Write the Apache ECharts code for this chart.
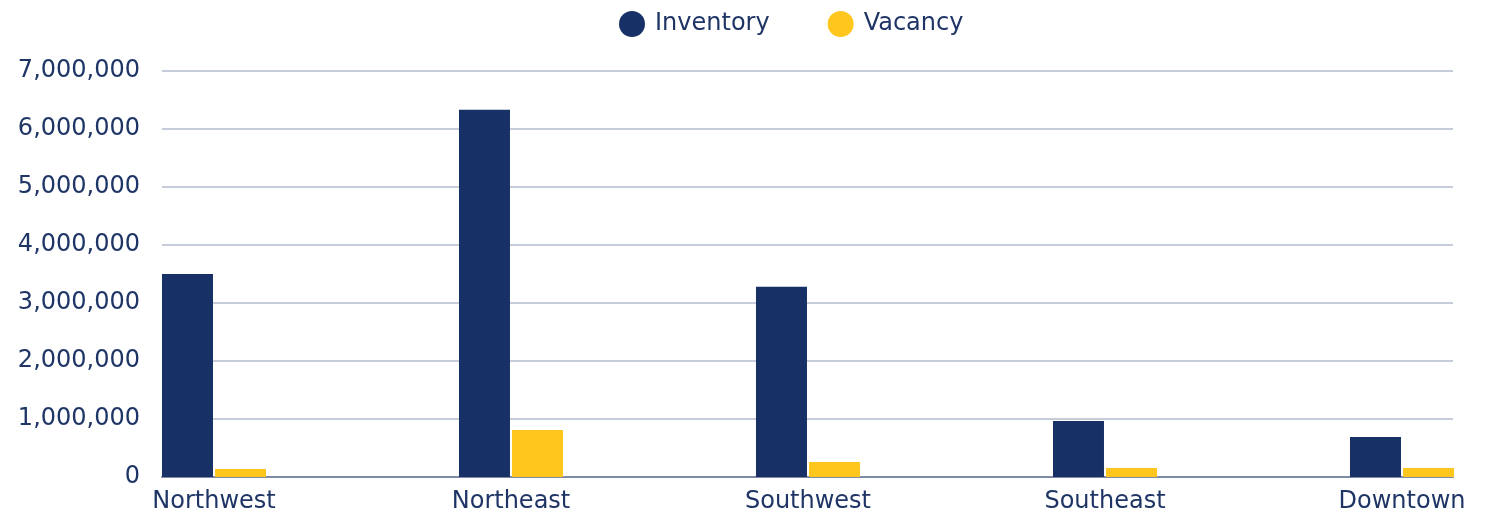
<!DOCTYPE html>
<html>
<head>
<meta charset="utf-8">
<script src="https://cdn.jsdelivr.net/npm/echarts@6/dist/echarts.min.js"></script>
<style>
  html, body { margin: 0; padding: 0; background: #fff; }
  #chart { width: 1493px; height: 518px; }
</style>
</head>
<body>
<div id="chart"></div>
<script>
// 数据
const categories = ['Northwest', 'Northeast', 'Southwest', 'Southeast', 'Downtown']
const inventory = [3500000, 6330000, 3280000, 965000, 690000]
const vacancy = [140000, 810000, 260000, 155000, 155000]
const yTicks = [0, 1000000, 2000000, 3000000, 4000000, 5000000, 6000000, 7000000]

const textColor = '#1f3566'
const font = '"DejaVu Sans", sans-serif'

let myChart = echarts.init(document.getElementById('chart'))
myChart.setOption({
  animation: false,
  legend: {
    left: 614,
    top: 6,
    icon: 'circle',
    itemWidth: 26,
    itemHeight: 26,
    itemGap: 58,
    textStyle: { fontSize: 24, color: textColor, fontFamily: font, padding: [0, 0, 0, 5] },
    data: ['Inventory', 'Vacancy']
  },
  grid: {
    left: 162,
    right: 40,
    top: 71,
    bottom: 41,
    containLabel: false
  },
  // x轴用数值轴，让分组落在两根柱子之间
  xAxis: {
    type: 'value',
    min: -0.1751,
    max: 4.1717,
    splitLine: { show: false },
    axisTick: { show: false },
    axisLine: { show: true, onZero: false, lineStyle: { color: '#7f8aa5', width: 2 } },
    axisLabel: {
      customValues: [0, 1, 2, 3, 4],
      formatter: (v) => categories[Math.round(v)],
      fontSize: 24,
      color: textColor,
      fontFamily: font,
      margin: 13
    }
  },
  yAxis: {
    type: 'value',
    min: yTicks[0],
    max: yTicks[yTicks.length - 1],
    interval: 1000000,
    axisLine: { show: false },
    axisTick: { show: false },
    splitLine: { lineStyle: { color: '#c6ccda', width: 2 } },
    axisLabel: {
      fontSize: 24,
      color: textColor,
      fontFamily: font,
      margin: 22,
      formatter: (v) => v.toLocaleString('en-US')
    }
  },
  series: [
    {
      name: 'Inventory',
      type: 'bar',
      barWidth: 51,
      barGap: '4%',
      itemStyle: { color: '#173166' },
      data: inventory.map((v, i) => [i, v])
    },
    {
      name: 'Vacancy',
      type: 'bar',
      barWidth: 51,
      barGap: '4%',
      itemStyle: { color: '#ffc61e' },
      data: vacancy.map((v, i) => [i, v])
    }
  ]
})
</script>
</body>
</html>
